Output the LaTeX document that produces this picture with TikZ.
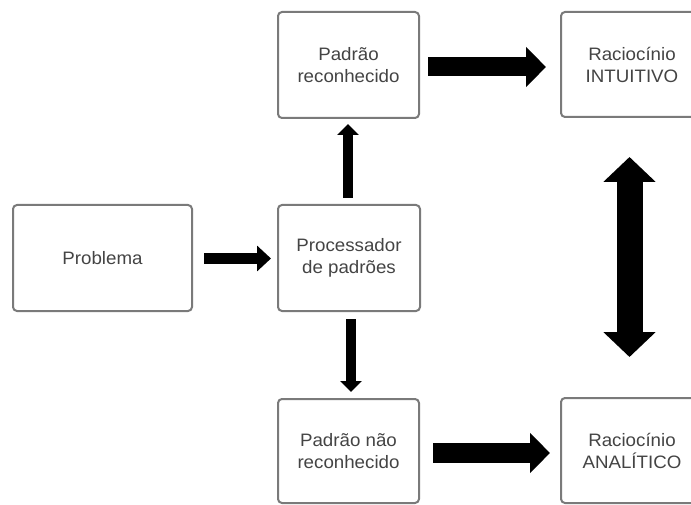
\documentclass[tikz,border=0pt]{standalone}
\usepackage{fontspec}
\setmainfont{Liberation Sans}[FakeStretch=1.04]
\usetikzlibrary{arrows.meta}
\definecolor{boxline}{HTML}{7A7A7A}
\definecolor{boxtext}{HTML}{444444}
\tikzset{
  stage/.style={draw=boxline, line width=2pt, rounded corners=4pt, fill=white,
    minimum width=141pt, minimum height=106pt, align=center, inner sep=0pt,
    text=boxtext, font=\fontsize{18}{22}\selectfont},
  bigflow/.style={line width=19pt, -{Triangle[width=39pt,length=20pt]}},
  smallflow/.style={line width=10pt, -{Triangle[width=21pt,length=11pt]}},
}
\begin{document}
\begin{tikzpicture}[x=1pt,y=-1pt]
  \useasboundingbox (0,0) rectangle (691,505);
  \clip (0,0) rectangle (691,505);
  \fill[white] (0,0) rectangle (691,505);

  % boxes
  \node[stage, minimum width=179pt] (prob) at (102.5,258) {Problema};
  \node[stage, minimum width=142pt] (proc) at (349,258) {Processador\\de padrões};
  \node[stage] (rec) at (348.5,65) {Padrão\\reconhecido};
  \node[stage, minimum height=104pt] (nrec) at (348.5,451) {Padrão não\\reconhecido};
  \node[stage, minimum width=142pt, minimum height=105pt] (int) at (632,64.5) {Raciocínio\\INTUITIVO};
  \node[stage, minimum width=142pt, minimum height=105pt] (ana) at (632,450.5) {Raciocínio\\ANALÍTICO};

  % connectors (shifts are in page units: positive yshift points up)
  \draw[line width=11pt, -{Triangle[width=25pt,length=14pt]}]
    ([xshift=11pt,yshift=-0.5pt]prob.east) -- ([xshift=-6pt,yshift=-0.5pt]proc.west);
  \draw[smallflow] ([xshift=-1pt,yshift=6pt]proc.north) -- ([xshift=-0.5pt,yshift=-5pt]rec.south);
  \draw[smallflow] ([xshift=2pt,yshift=-7pt]proc.south) -- ([xshift=2.5pt,yshift=6pt]nrec.north);
  \draw[bigflow] ([xshift=8pt,yshift=-2pt]rec.east) -- ([xshift=-14pt,yshift=-2.5pt]int.west);
  \draw[bigflow, line width=20pt] ([xshift=13pt,yshift=-2pt]nrec.east) -- ([xshift=-10pt,yshift=-2.5pt]ana.west);
  \draw[line width=26pt, {Triangle[width=51pt,length=25pt]}-{Triangle[width=51pt,length=25pt]}]
    ([xshift=-2.5pt,yshift=-39pt]int.south) -- ([xshift=-2.5pt,yshift=40pt]ana.north);
\end{tikzpicture}
\end{document}
